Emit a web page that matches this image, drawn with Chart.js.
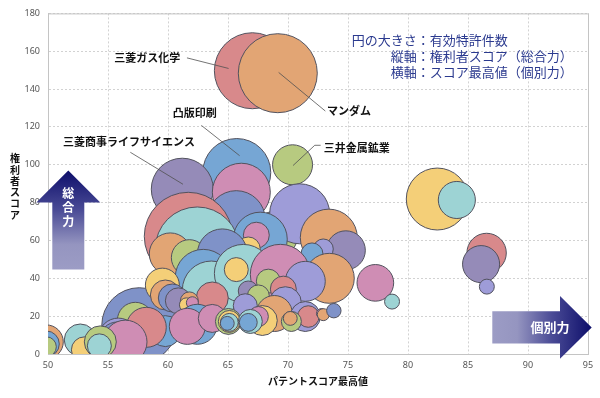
<!DOCTYPE html>
<html lang="ja">
<head>
<meta charset="utf-8">
<title>権利者スコア バブルチャート</title>
<script src="https://cdn.jsdelivr.net/npm/chart.js@4.4.1/dist/chart.umd.min.js"></script>
<style>
  html, body { margin: 0; padding: 0; background: #fff; }
  #wrap { width: 600px; height: 398px; }
</style>
</head>
<body>
<div id="wrap"><canvas id="bubbleChart" width="600" height="398"></canvas></div>
<script>
// x: パテントスコア最高値 / y: 権利者スコア / size: 有効特許件数
// listed in drawing order (later entries are painted on top)
const scoreMax = [
  67.03, 69.15, 65.73, 61.19, 66.11, 70.38, 65.69, 68.94, 70.97, 61.69,
  62.44, 67.69, 67.36, 66.69, 73.40, 74.82, 72.94, 72.00, 60.19, 61.78,
  64.53, 57.61, 62.94, 63.61, 66.28, 65.69, 69.36, 73.44, 71.44, 68.36,
  69.61, 59.53, 59.78, 60.36, 60.86, 63.69, 61.78, 61.53, 62.03, 59.78,
  62.44, 61.61, 66.69, 67.53, 66.44, 69.78, 68.86, 67.86, 67.53, 63.69,
  65.03, 65.11, 65.11, 64.94, 66.86, 66.69, 71.44, 71.69, 70.28, 70.19,
  72.78, 72.94, 73.82, 57.28, 58.19, 55.86, 55.78, 56.44, 49.86, 49.86,
  49.86, 52.69, 53.03, 54.36, 54.28, 82.44, 84.07, 86.55, 86.09, 86.57,
  77.28, 78.67
];
const holderScore = [
  149.7, 148.4, 95.9, 87.1, 85.5, 100.0, 71.0, 63.3, 74.1, 62.2,
  55.5, 60.7, 62.8, 55.5, 61.5, 54.8, 55.5, 52.9, 52.9, 50.9,
  52.9, 15.2, 40.5, 33.8, 42.6, 44.6, 42.1, 40.0, 38.4, 38.5,
  34.3, 36.4, 31.2, 29.6, 28.1, 29.6, 28.1, 26.0, 27.1, 12.1,
  15.7, 14.6, 33.3, 30.7, 25.5, 27.1, 21.4, 17.7, 19.8, 18.8,
  17.2, 17.2, 16.7, 16.2, 17.2, 16.7, 19.8, 19.8, 17.2, 18.8,
  21.4, 20.8, 22.9, 17.8, 14.1, 8.4, 7.4, 6.4, 6.4, 5.3,
  3.8, 7.4, 2.2, 6.4, 4.3, 81.9, 81.4, 53.4, 47.5, 35.6,
  37.6, 27.7
];
const patentCount = [
  361, 390, 289, 240, 210, 100, 210, 132, 225, 484,
  441, 182, 42, 36, 203, 95, 25, 30, 110, 81,
  156, 352, 196, 210, 210, 36, 225, 156, 100, 36,
  42, 72, 56, 49, 42, 64, 20, 12, 9, 60,
  100, 81, 25, 30, 36, 64, 81, 56, 25, 49,
  42, 30, 20, 12, 36, 20, 56, 29, 25, 12,
  6, 9, 13, 81, 100, 100, 81, 118, 72, 42,
  25, 64, 42, 64, 36, 240, 86, 97, 86, 14,
  84, 14
];

// style: fill colour key of each bubble (same order as above)
const bubbleFill = [
  'r','o','b','p','k','g','s','g','l','r',
  't','b','k','y','o','p','l','b','o','g',
  's','s','b','t','t','y','k','o','l','g',
  'r','y','o','s','p','r','o','y','k','b',
  'b','k','p','g','l','l','o','y','k','k',
  'g','y','t','b','t','b','l','r','g','o',
  'k','o','s','g','r','l','s','k','o','b',
  'g','t','y','g','t','y','t','r','p','l',
  'k','t'
];

const xTicks = [50, 55, 60, 65, 70, 75, 80, 85, 90, 95];
const yTicks = [0, 20, 40, 60, 80, 100, 120, 140, 160, 180];

// named companies -> index of their bubble
const companyNames = ['三菱ガス化学', 'マンダム', '凸版印刷', '三菱商事ライフサイエンス', '三井金属鉱業'];
const companyIndex = [0, 1, 2, 3, 5];

const noteLines = [
  ['円の大きさ', '：有効特許件数'],
  ['縦軸', '：権利者スコア（総合力）'],
  ['横軸', '：スコア最高値（個別力）']
];

const PALETTE = {
  r: '#d8898b', o: '#e2a574', b: '#76a6d4', p: '#958bb8', k: '#cf8db4',
  g: '#b7ca80', y: '#f4cf78', t: '#9dd3d4', l: '#9e9cd8', s: '#7f92c8'
};
const JP = '"Noto Sans CJK JP", "Noto Sans", sans-serif';

// label text centre and leader line points, in data units
const labelLayout = [
  { text: [58.27, 156.5], line: [[61.58, 156.5], [65.05, 150.9]] },
  { text: [75.08, 128.4], line: [[73.11, 128.4], [69.22, 148.8]] },
  { text: [62.22, 127.3], line: [[62.78, 120.8], [65.97, 104.8]] },
  { text: [56.76, 112.3], line: [[56.86, 106.6], [61.25, 89.7]] },
  { text: [75.72, 109.2], line: [[72.72, 110.3], [72.23, 110.3], [70.42, 99.6]] }
];

function bubbleRadius(n) {
  return 2 * Math.sqrt(n);
}

function arrowGradient(ctx, x0, y0, x1, y1) {
  const g = ctx.createLinearGradient(x0, y0, x1, y1);
  g.addColorStop(0, '#0d0e6a');
  g.addColorStop(0.4, '#4a4b96');
  g.addColorStop(0.75, '#9595c0');
  g.addColorStop(1, '#9c9cc5');
  return g;
}

const decorPlugin = {
  id: 'decor',
  beforeDatasetsDraw(chart) {
    // plain frame round the plot area
    const { ctx, chartArea: a } = chart;
    ctx.save();
    ctx.strokeStyle = '#c4c4c4';
    ctx.lineWidth = 1;
    ctx.strokeRect(a.left + 0.5, a.top + 0.5, a.right - a.left, a.bottom - a.top);
    ctx.restore();
  },
  afterDatasetsDraw(chart) {
    const { ctx } = chart;
    const xs = chart.scales.x, ys = chart.scales.y;
    ctx.save();
    ctx.strokeStyle = '#505050';
    ctx.lineWidth = 0.8;
    labelLayout.forEach(function (lab, i) {
      ctx.beginPath();
      lab.line.forEach(function (p, j) {
        const px = xs.getPixelForValue(p[0]), py = ys.getPixelForValue(p[1]);
        if (j === 0) ctx.moveTo(px, py); else ctx.lineTo(px, py);
      });
      ctx.stroke();
      ctx.fillStyle = '#111';
      ctx.font = 'bold 11px ' + JP;
      ctx.textAlign = 'center';
      ctx.textBaseline = 'middle';
      ctx.fillText(companyNames[i], xs.getPixelForValue(lab.text[0]), ys.getPixelForValue(lab.text[1]));
    });
    ctx.restore();
  },
  afterDraw(chart) {
    const { ctx, chartArea: a } = chart;
    ctx.save();

    // 総合力 arrow (up)
    const cx = a.left + 20.3, tip = a.top + 157, base = a.top + 189, foot = a.top + 256;
    ctx.beginPath();
    ctx.moveTo(cx, tip);
    ctx.lineTo(cx + 32, base);
    ctx.lineTo(cx + 16, base);
    ctx.lineTo(cx + 16, foot);
    ctx.lineTo(cx - 16, foot);
    ctx.lineTo(cx - 16, base);
    ctx.lineTo(cx - 32, base);
    ctx.closePath();
    ctx.fillStyle = arrowGradient(ctx, 0, tip, 0, foot);
    ctx.fill();
    ctx.fillStyle = '#fff';
    ctx.font = 'bold 12px ' + JP;
    ctx.textAlign = 'center';
    ctx.textBaseline = 'middle';
    ['総', '合', '力'].forEach(function (ch, i) {
      ctx.fillText(ch, cx, base - 9 + i * 14);
    });

    // 個別力 arrow (right)
    const cy = a.bottom - 26.6, left = a.right - 95.7, neck = a.right - 28, point = a.right + 3.7;
    ctx.beginPath();
    ctx.moveTo(point, cy);
    ctx.lineTo(neck, cy + 31.3);
    ctx.lineTo(neck, cy + 16.2);
    ctx.lineTo(left, cy + 16.2);
    ctx.lineTo(left, cy - 16.2);
    ctx.lineTo(neck, cy - 16.2);
    ctx.lineTo(neck, cy - 31.3);
    ctx.closePath();
    ctx.fillStyle = arrowGradient(ctx, point, 0, left, 0);
    ctx.fill();
    ctx.fillStyle = '#fff';
    ctx.font = 'bold 13px ' + JP;
    ctx.fillText('個別力', a.right - 38, cy);

    // note in the top right corner, lined up on the colon
    ctx.fillStyle = '#2b3a8f';
    ctx.font = '13px ' + JP;
    ctx.textAlign = 'left';
    const colonX = a.right - 171.3;
    noteLines.forEach(function (ln, i) {
      const w = ctx.measureText(ln[0]).width;
      ctx.fillText(ln[0] + ln[1], colonX - w, a.top + 27 + i * 16);
    });

    // axis titles
    ctx.fillStyle = '#111';
    ctx.font = 'bold 10px ' + JP;
    ctx.textAlign = 'center';
    ctx.fillText('パテントスコア最高値', (a.left + a.right) / 2, a.bottom + 27.4);
    const midY = (a.top + a.bottom) / 2 + 3;
    Array.from('権利者スコア').forEach(function (ch, i) {
      ctx.fillText(ch, 15, midY + (i - 2.5) * 11.3);
    });

    ctx.restore();
  }
};

function initializeBubbleChart() {
  const points = scoreMax.map(function (x, i) {
    return { x: x, y: holderScore[i], r: bubbleRadius(patentCount[i]) };
  });

  const ctx = document.getElementById('bubbleChart').getContext('2d');
  new Chart(ctx, {
    type: 'bubble',
    data: {
      datasets: [{
        label: '有効特許件数',
        data: points,
        backgroundColor: bubbleFill.map(function (k) { return PALETTE[k]; }),
        borderColor: '#52525e',
        borderWidth: 1,
        clip: 0
      }]
    },
    options: {
      responsive: false,
      animation: false,
      events: [],
      layout: { autoPadding: false, padding: { top: 6, right: 12, left: 0, bottom: 0 } },
      plugins: {
        legend: { display: false },
        tooltip: { enabled: false }
      },
      scales: {
        x: {
          type: 'linear',
          min: xTicks[0],
          max: xTicks[xTicks.length - 1],
          afterBuildTicks: function (scale) { scale.ticks = xTicks.map(function (v) { return { value: v }; }); },
          afterFit: function (scale) { scale.height = 44; },
          grid: { color: '#d2d2d2', drawTicks: false },
          border: { color: '#c4c4c4', dash: [2, 2] },
          ticks: { padding: 6, color: '#555', font: { family: '"Noto Sans", sans-serif', size: 9 } }
        },
        y: {
          type: 'linear',
          min: yTicks[0],
          max: yTicks[yTicks.length - 1],
          afterBuildTicks: function (scale) { scale.ticks = yTicks.map(function (v) { return { value: v }; }); },
          afterFit: function (scale) { scale.width = 48; },
          grid: { color: '#d2d2d2', drawTicks: false },
          border: { color: '#c4c4c4', dash: [2, 2] },
          ticks: { padding: 8, color: '#555', font: { family: '"Noto Sans", sans-serif', size: 9 } }
        }
      }
    },
    plugins: [decorPlugin]
  });
}

document.addEventListener('DOMContentLoaded', () => {
  initializeBubbleChart();
});
</script>
</body>
</html>
